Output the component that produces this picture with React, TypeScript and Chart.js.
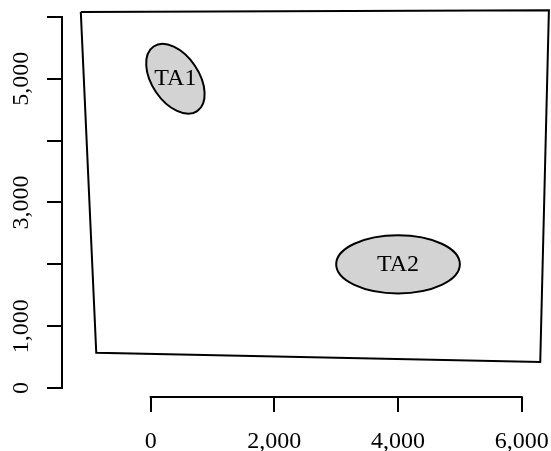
import React, { useEffect, useRef } from 'react';
import { Chart, registerables } from 'chart.js';

Chart.register(...registerables);

// ---- data ----
const xTicks = [0, 2000, 4000, 6000];
const yTicks = [0, 1000, 2000, 3000, 4000, 5000, 6000];
const yLabelled = [0, 1000, 3000, 5000];

const polygonX = [-1130, 6440, 6300, -880, -1130];
const polygonY = [6080, 6110, 420, 570, 6080];

const ellipseNames = ['TA1', 'TA2'];
const ellipseCx = [400, 4000];
const ellipseCy = [5000, 2000];
const ellipseRa = [630, 1000];
const ellipseRb = [380, 470];
const ellipseAngle = [-56, 0]; // degrees, data space (counter-clockwise)

const xRange = [-1434, 6474];
const yRange = [-146, 6275];

const FONT_FAMILY = '"Liberation Serif", "DejaVu Serif", serif';
const FONT_SIZE = 24;

const fmt = (v: number) => Number(v).toLocaleString('en-US');

const ellipsePlugin = {
  id: 'ellipsesAndAxes',
  afterDatasetsDraw(chart: any) {
    const { ctx, scales } = chart;
    const x = scales.x;
    const y = scales.y;
    ctx.save();
    ctx.strokeStyle = '#000';
    ctx.lineWidth = 2;
    // detached axis lines (span first..last tick)
    ctx.lineCap = 'butt';
    ctx.beginPath();
    ctx.moveTo(y.right, y.getPixelForValue(yTicks[0]) + 1);
    ctx.lineTo(y.right, y.getPixelForValue(yTicks[yTicks.length - 1]) - 1);
    ctx.stroke();
    ctx.beginPath();
    ctx.moveTo(x.getPixelForValue(xTicks[0]) - 1, x.top);
    ctx.lineTo(x.getPixelForValue(xTicks[xTicks.length - 1]) + 1, x.top);
    ctx.stroke();

    // ellipses
    for (let i = 0; i < ellipseNames.length; i++) {
      const cx = x.getPixelForValue(ellipseCx[i]);
      const cy = y.getPixelForValue(ellipseCy[i]);
      const ra = Math.abs(x.getPixelForValue(ellipseCx[i] + ellipseRa[i]) - cx);
      const rb = Math.abs(y.getPixelForValue(ellipseCy[i] + ellipseRb[i]) - cy);
      const rot = (-ellipseAngle[i] * Math.PI) / 180;
      ctx.beginPath();
      ctx.ellipse(cx, cy, ra, rb, rot, 0, Math.PI * 2);
      ctx.fillStyle = '#d3d3d3';
      ctx.fill();
      ctx.stroke();
      ctx.fillStyle = '#000';
      ctx.font = `${FONT_SIZE}px ${FONT_FAMILY}`;
      ctx.textAlign = 'center';
      ctx.textBaseline = 'middle';
      ctx.fillText(ellipseNames[i], cx, cy);
    }
    ctx.restore();
  },
};

export default function App() {
  const ref = useRef<HTMLCanvasElement | null>(null);

  useEffect(() => {
    if (!ref.current) return;
    const font = { family: FONT_FAMILY, size: FONT_SIZE };
    const chart = new Chart(ref.current, {
      type: 'scatter',
      data: {
        datasets: [
          {
            data: polygonX.map((v, i) => ({ x: v, y: polygonY[i] })),
            showLine: true,
            borderColor: '#000',
            borderWidth: 2,
            pointRadius: 0,
            fill: false,
            tension: 0,
            borderJoinStyle: 'miter',
          } as any,
        ],
      },
      options: {
        animation: false,
        responsive: false,
        maintainAspectRatio: false,
        events: [],
        layout: { padding: 0 },
        plugins: { legend: { display: false }, tooltip: { enabled: false } },
        scales: {
          x: {
            type: 'linear',
            min: xRange[0],
            max: xRange[1],
            afterBuildTicks: (s: any) => {
              s.ticks = xTicks.map((v) => ({ value: v }));
            },
            afterFit: (s: any) => {
              s.height = 54;
              s.paddingLeft = 0;
              s.paddingRight = 0;
            },
            grid: { drawOnChartArea: false, drawTicks: true, tickLength: 15, color: '#000', lineWidth: 2 },
            border: { display: false },
            ticks: {
              autoSkip: false,
              minRotation: 0,
              maxRotation: 0,
              padding: 15,
              font,
              color: '#000',
              callback: (v: any) => fmt(v),
            },
          },
          y: {
            type: 'linear',
            min: yRange[0],
            max: yRange[1],
            afterBuildTicks: (s: any) => {
              s.ticks = yTicks.map((v) => ({ value: v }));
            },
            afterFit: (s: any) => {
              s.width = 62;
              s.paddingTop = 0;
              s.paddingBottom = 0;
            },
            grid: { drawOnChartArea: false, drawTicks: true, tickLength: 15, color: '#000', lineWidth: 2 },
            border: { display: false },
            ticks: {
              autoSkip: false,
              minRotation: 90,
              maxRotation: 90,
              crossAlign: 'center',
              padding: -2,
              font,
              color: '#000',
              callback: (v: any) => (yLabelled.includes(Number(v)) ? fmt(v) : ''),
            },
          },
        },
      } as any,
      plugins: [ellipsePlugin],
    });
    return () => chart.destroy();
  }, []);

  return (
    <div style={{ position: 'absolute', left: 0, top: 0, width: 551, height: 451 }}>
      <canvas ref={ref} width={551} height={451} style={{ display: 'block' }} />
    </div>
  );
}
